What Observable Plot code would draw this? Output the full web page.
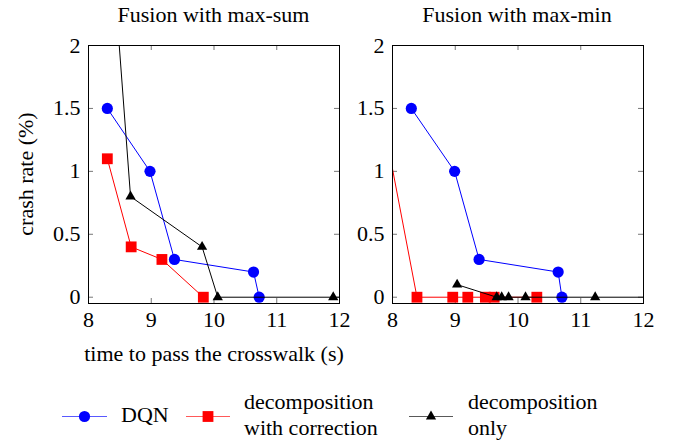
<!DOCTYPE html>
<html><head><meta charset="utf-8">
<script src="https://cdn.jsdelivr.net/npm/d3@7"></script>
<script src="https://cdn.jsdelivr.net/npm/@observablehq/plot@0.6"></script>
<style>
body{margin:0;background:#fff;font-family:'Liberation Serif';}
#root{position:relative;width:678px;height:444px;color:#000;overflow:hidden;font-family:'Liberation Serif';font-size:22px;}
#root > svg{position:absolute;top:0;}
.t{position:absolute;white-space:nowrap;line-height:22px;font-family:'Liberation Serif';font-size:22px;}
</style></head><body><div id="root"></div>
<script>
const FONT = "Liberation Serif";
const xTicks = [8, 9, 10, 11, 12];
const yTicks = [0, 0.5, 1, 1.5, 2];
const panelTitles = ["Fusion with max-sum", "Fusion with max-min"];
const seriesNames = ["DQN", "decomposition with correction", "decomposition only"];
const xLabel = "time to pass the crosswalk (s)";
const yLabel = "crash rate (%)";

// Fusion with max-sum
const sumDqnX = [8.3, 8.98, 9.37, 10.63, 10.72];
const sumDqnY = [1.5, 1.0, 0.3, 0.2, 0];
const sumCorrX = [8.3, 8.68, 9.17, 9.83];
const sumCorrY = [1.1, 0.4, 0.3, 0];
const sumOnlyX = [8.4, 8.67, 9.81, 10.06, 11.9, 12.5];
const sumOnlyY = [2.6, 0.8, 0.4, 0, 0, 0];

// Fusion with max-min
const minDqnX = [8.3, 8.99, 9.38, 10.64, 10.7];
const minDqnY = [1.5, 1.0, 0.3, 0.2, 0];
const minCorrX = [7.9, 8.39, 8.96, 9.2, 9.48, 9.62, 10.3];
const minCorrY = [1.28, 0, 0, 0, 0, 0, 0];
const minOnlyX = [9.03, 9.66, 9.74, 9.85, 10.12, 11.23, 12.5];
const minOnlyY = [0.1, 0, 0, 0, 0, 0, 0];

const colors = ["#0000ff", "#ff0000", "#000000"];
const symbols = ["circle", "square", "triangle"];
const radii = [5.6, 6.1, 3.8];

function rows(xs, ys, s) { return xs.map((x, i) => ({x, y: ys[i], s})); }
const sumSeries = [rows(sumDqnX, sumDqnY, 0), rows(sumCorrX, sumCorrY, 1), rows(sumOnlyX, sumOnlyY, 2)];
const minSeries = [rows(minDqnX, minDqnY, 0), rows(minCorrX, minCorrY, 1), rows(minOnlyX, minOnlyY, 2)];

const H = 340, MT = 45, MB = 37;
function panel(series, width, ml, mr, left) {
  const pw = width - ml - mr, ph = H - MT - MB;
  const marks = [
    Plot.ruleX(xTicks, {x: d => d, insetBottom: ph - 5, stroke: "#777"}),
    Plot.ruleX(xTicks, {x: d => d, insetTop: ph - 5, stroke: "#777"}),
    Plot.ruleY(yTicks, {y: d => d, insetRight: pw - 5, stroke: "#777"}),
    Plot.ruleY(yTicks, {y: d => d, insetLeft: pw - 5, stroke: "#777"}),
    Plot.axisX({anchor: "bottom", ticks: xTicks, tickSize: 0, tickPadding: 8, tickFormat: d => String(d), label: null, fontFamily: FONT}),
    Plot.axisY({anchor: "left", ticks: yTicks, tickSize: 0, tickPadding: 8, tickFormat: d => String(d), label: null, fontFamily: FONT})
  ];
  series.forEach((data, i) => {
    marks.push(Plot.line(data, {x: "x", y: "y", stroke: colors[i], strokeWidth: 1, clip: true}));
    marks.push(Plot.dot(data, {x: "x", y: "y", fill: colors[i], stroke: null, symbol: symbols[i], r: radii[i], clip: true}));
  });
  marks.push(Plot.frame({stroke: "#000", strokeWidth: 1}));
  const svg = Plot.plot({
    width, height: H, marginLeft: ml, marginRight: mr, marginTop: MT, marginBottom: MB,
    x: {domain: [8, 12], label: null},
    y: {domain: [-0.05, 2], label: null},
    style: {fontFamily: FONT, fontSize: "22px", background: "transparent", color: "#000", overflow: "visible"},
    marks
  });
  svg.style.left = left + "px";
  return svg;
}

const root = document.getElementById("root");
root.appendChild(panel(sumSeries, 350, 88, 11, 0));
root.appendChild(panel(minSeries, 338, 52, 35, 340));

// HTML texts: titles, axis labels, legend labels (baseline = top + 18.4)
function txt(s, x, baseline, align, rot) {
  const d = document.createElement("div");
  d.className = "t";
  d.textContent = s;
  d.style.left = x + "px";
  d.style.top = (baseline - 18.4) + "px";
  if (align === "middle") d.style.transform = "translateX(-50%)";
  if (rot) {
    d.style.top = baseline + "px";
    d.style.transform = "translate(-50%,-50%) rotate(-90deg)";
  }
  root.appendChild(d);
  return d;
}
txt(panelTitles[0], 213.5, 22, "middle");
txt(panelTitles[1], 517, 22, "middle");
txt(xLabel, 214, 361, "middle");
txt(yLabel, 25.6, 174, "middle", true);

// legend keys
const ns = "http://www.w3.org/2000/svg";
const ov = document.createElementNS(ns, "svg");
ov.setAttribute("width", 678); ov.setAttribute("height", 444);
ov.style.left = "0px";
root.appendChild(ov);
const legendItems = [
  {x0: 62, x1: 107, tx: 121, lines: [seriesNames[0]], ty: [422]},
  {x0: 186, x1: 230, tx: 244, lines: ["decomposition", "with correction"], ty: [409, 435]},
  {x0: 409, x1: 453, tx: 468, lines: ["decomposition", "only"], ty: [409, 435]}
];
legendItems.forEach((it, i) => {
  const l = document.createElementNS(ns, "line");
  l.setAttribute("x1", it.x0); l.setAttribute("x2", it.x1);
  l.setAttribute("y1", 416.5); l.setAttribute("y2", 416.5);
  l.setAttribute("stroke", colors[i]); l.setAttribute("stroke-opacity", 0.65);
  ov.appendChild(l);
  const p = document.createElementNS(ns, "path");
  const sym = [d3.symbolCircle, d3.symbolSquare, d3.symbolTriangle][i];
  p.setAttribute("d", d3.symbol(sym, Math.PI * radii[i] * radii[i])());
  p.setAttribute("transform", `translate(${(it.x0 + it.x1) / 2},416.5)`);
  p.setAttribute("fill", colors[i]);
  ov.appendChild(p);
  it.lines.forEach((s, j) => txt(s, it.tx, it.ty[j]));
});
</script>
</body></html>
